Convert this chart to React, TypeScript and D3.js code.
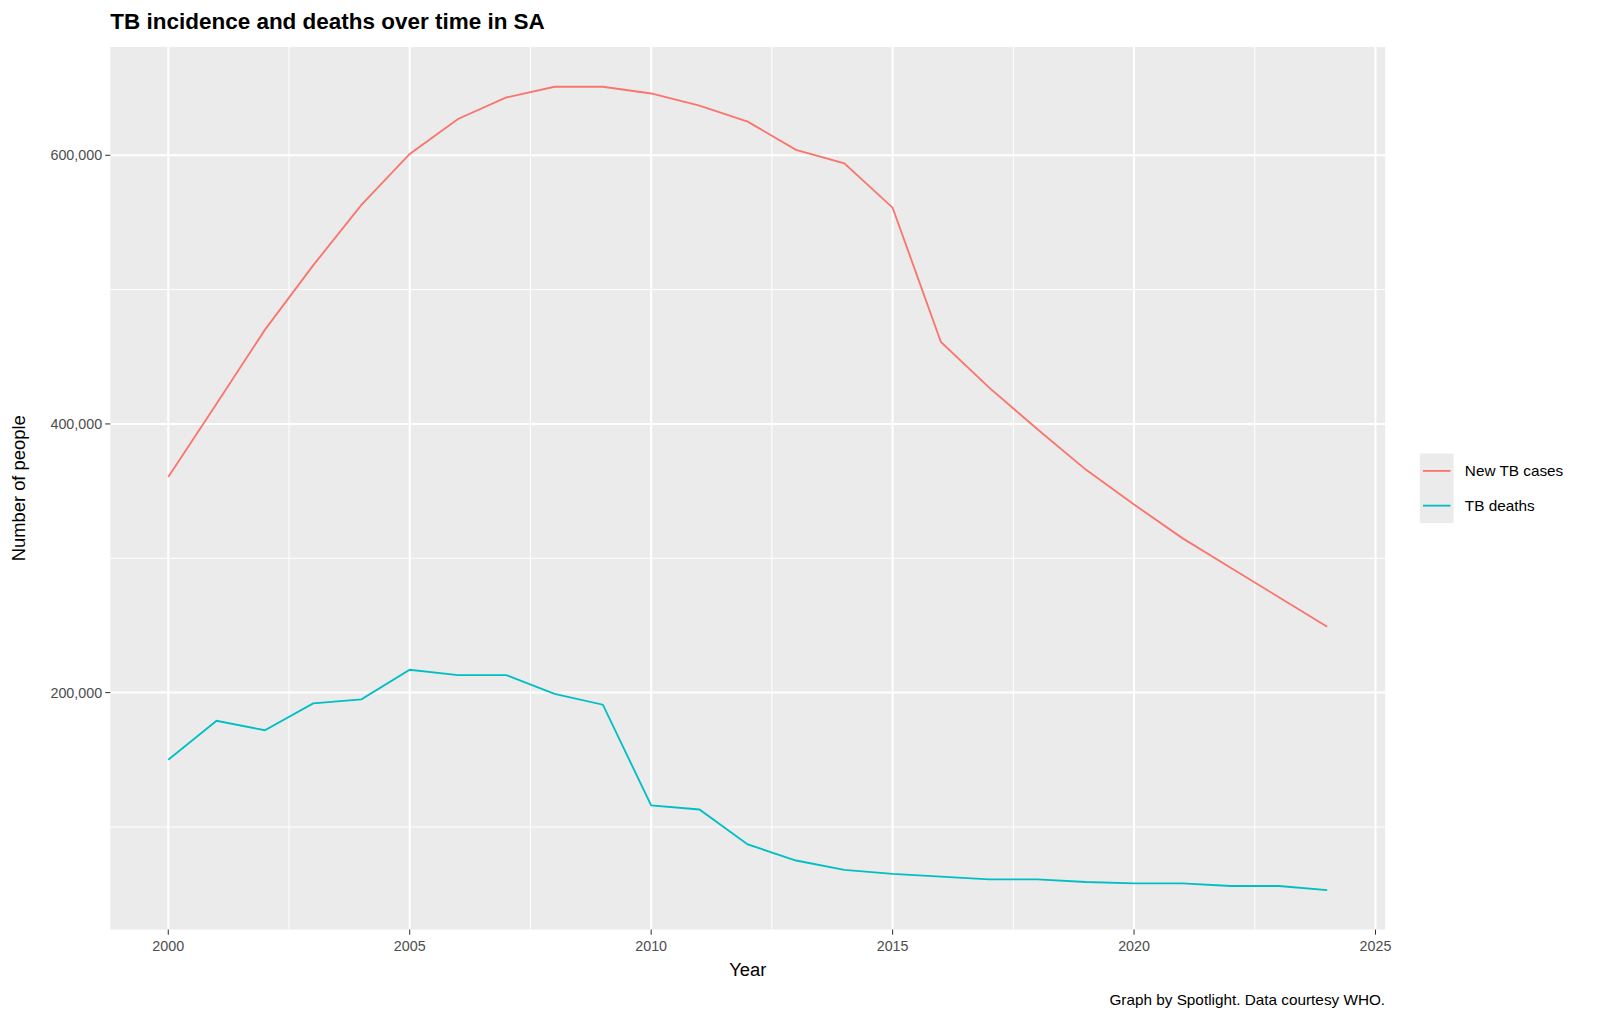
import * as d3 from "d3";

const years = d3.range(2000, 2025);
const newCases = [360500, 415000, 470000, 518000, 563000, 601000, 627000, 643000, 651000, 651000, 646000, 637000, 625000, 604000, 594000, 561000, 461000, 427000, 396000, 366000, 340000, 315000, 293000, 271000, 249000];
const deaths = [150000, 179000, 172000, 192000, 195000, 217000, 213000, 213000, 199000, 191000, 116000, 113000, 87000, 75000, 68000, 65000, 63000, 61000, 61000, 59000, 58000, 58000, 56000, 56000, 53000];
const xTicks = [2000, 2005, 2010, 2015, 2020, 2025];
const xMinor = [2002.5, 2007.5, 2012.5, 2017.5, 2022.5];
const yTicks = [200000, 400000, 600000];
const yMinor = [100000, 300000, 500000];
const series = [
  { name: "New TB cases", values: newCases, color: "#F8766D" },
  { name: "TB deaths", values: deaths, color: "#00BFC4" },
];

// measured in the reference's displayed scale; scaled up by SCALE
const SCALE = 1.0215;
const PANEL = { left: 108, right: 1356, top: 46, bottom: 910 };
const FONT = "Liberation Sans, Arial, sans-serif";

export default function App() {
  const x = d3.scaleLinear().domain([1998.8, 2025.2]).range([PANEL.left, PANEL.right]);
  const y = d3.scaleLinear().domain([23600, 680600]).range([PANEL.bottom, PANEL.top]);
  const fmt = d3.format(",");
  const line = (vals: number[]) =>
    d3.line<number>().x((_, i) => x(years[i])).y((d) => y(d))(vals) || "";

  return (
    <svg width={1600} height={1018} style={{ position: "absolute", left: 0, top: 0, background: "#fff" }} fontFamily={FONT}>
      <g transform={`scale(${SCALE})`}>
        <text x={108} y={28} fontSize={22} fontWeight="bold">TB incidence and deaths over time in SA</text>
        <rect x={PANEL.left} y={PANEL.top} width={PANEL.right - PANEL.left} height={PANEL.bottom - PANEL.top} fill="#EBEBEB" />
        {xMinor.map((t) => (
          <line key={"xm" + t} x1={x(t)} x2={x(t)} y1={PANEL.top} y2={PANEL.bottom} stroke="#fff" strokeWidth={1} />
        ))}
        {yMinor.map((t) => (
          <line key={"ym" + t} x1={PANEL.left} x2={PANEL.right} y1={y(t)} y2={y(t)} stroke="#fff" strokeWidth={1} />
        ))}
        {xTicks.map((t) => (
          <g key={"x" + t}>
            <line x1={x(t)} x2={x(t)} y1={PANEL.top} y2={PANEL.bottom} stroke="#fff" strokeWidth={2} />
            <line x1={x(t)} x2={x(t)} y1={PANEL.bottom} y2={PANEL.bottom + 5} stroke="#333" />
            <text x={x(t)} y={PANEL.bottom + 21} textAnchor="middle" fontSize={14} fill="#4D4D4D">{t}</text>
          </g>
        ))}
        {yTicks.map((t) => (
          <g key={"y" + t}>
            <line x1={PANEL.left} x2={PANEL.right} y1={y(t)} y2={y(t)} stroke="#fff" strokeWidth={2} />
            <line x1={PANEL.left - 5} x2={PANEL.left} y1={y(t)} y2={y(t)} stroke="#333" />
            <text x={PANEL.left - 8} y={y(t) + 5} textAnchor="end" fontSize={14} fill="#4D4D4D">{fmt(t)}</text>
          </g>
        ))}
        {series.map((s) => (
          <path key={s.name} d={line(s.values)} fill="none" stroke={s.color} strokeWidth={1.8} />
        ))}
        <text x={(PANEL.left + PANEL.right) / 2} y={955} textAnchor="middle" fontSize={18}>Year</text>
        <text transform={`translate(24,${(PANEL.top + PANEL.bottom) / 2}) rotate(-90)`} textAnchor="middle" fontSize={18}>Number of people</text>
        <rect x={1390} y={444} width={33} height={68} fill="#EBEBEB" />
        {series.map((s, i) => (
          <g key={"lg" + s.name} transform={`translate(0,${461 + i * 34})`}>
            <line x1={1393} x2={1420} y1={0} y2={0} stroke={s.color} strokeWidth={1.8} />
            <text x={1434} y={5} fontSize={15}>{s.name}</text>
          </g>
        ))}
        <text x={1356} y={984} textAnchor="end" fontSize={15}>Graph by Spotlight. Data courtesy WHO.</text>
      </g>
    </svg>
  );
}
